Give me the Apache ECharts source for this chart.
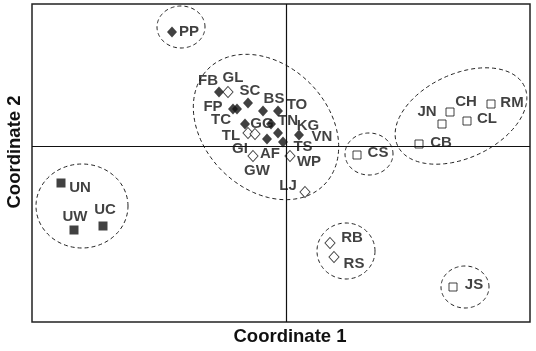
<!DOCTYPE html>
<html>
<head>
<meta charset="utf-8">
<script src="https://cdn.jsdelivr.net/npm/echarts@6/dist/echarts.min.js"></script>
<style>html,body{margin:0;padding:0;background:#fff}#chart{width:536px;height:351px}</style>
</head>
<body>
<div id="chart"></div>
<script>
// ---- Data (MDS coordinates) ----
const filledDiamondNames = ['PP','FB','SC','FP','TC','BS','TO','GG','TN','KG','VN','AF','TS'];
const filledDiamondX     = [-1.14,-0.67,-0.38,-0.53,-0.49,-0.23,-0.08,-0.41,-0.15,-0.08, 0.13,-0.19,-0.03];
const filledDiamondY     = [ 1.14, 0.54, 0.43, 0.37, 0.37, 0.35, 0.35, 0.22, 0.22, 0.13, 0.11, 0.07, 0.04];

const openDiamondNames = ['GL','TL','GI','GW','WP','LJ','RB','RS'];
const openDiamondX     = [-0.58,-0.38,-0.31,-0.33, 0.04, 0.19, 0.44, 0.48];
const openDiamondY     = [ 0.54, 0.13, 0.12,-0.10,-0.10,-0.46,-0.97,-1.11];

const openSquareNames = ['CH','JN','RM','CL','CB','CS','JS'];
const openSquareX     = [1.64, 1.56, 2.05, 1.81, 1.33, 0.71, 1.67];
const openSquareY     = [0.34, 0.22, 0.42, 0.25, 0.02,-0.09,-1.41];

const filledSquareNames = ['UN','UW','UC'];
const filledSquareX     = [-2.25,-2.12,-1.83];
const filledSquareY     = [-0.37,-0.84,-0.80];

// cluster ellipses: centre, semi-axes, rotation (degrees)
const ellipseCX    = [-1.05,-0.20, 1.75, 0.83,-2.04, 0.60, 1.79];
const ellipseCY    = [ 1.19, 0.19, 0.30,-0.08,-0.60,-1.05,-1.41];
const ellipseA     = [ 0.24, 0.82, 0.70, 0.24, 0.46, 0.29, 0.24];
const ellipseB     = [ 0.21, 0.62, 0.42, 0.21, 0.42, 0.28, 0.21];
const ellipseAngle = [ 0,   -45,   25,    0,    0,    0,    0  ];

const xAxisTitle = 'Coordinate 1';
const yAxisTitle = 'Coordinate 2';

// ---- Label placement (pixel offsets from marker centre) ----
const labelOffsets = {
  PP:[17,0], FB:[-11,-11], GL:[5,-14], SC:[2,-12], FP:[-20,-2], TC:[-16,11],
  BS:[11,-12], TO:[19,-6], GG:[17,0], TN:[17,-3], KG:[30,-7], VN:[23,2],
  AF:[3,15], TS:[20,5], TL:[-17,3], GI:[-15,15], GW:[4,15], WP:[19,6],
  LJ:[-17,-6], RB:[22,-5], RS:[20,7], CH:[16,-10], JN:[-15,-12], RM:[21,-1],
  CL:[20,-2], CB:[22,-1], CS:[21,-2], JS:[21,-2], UN:[19,5], UW:[1,-13], UC:[2,-16]
};

const FONT = '"Liberation Sans", Arial, Helvetica, sans-serif';
const INK = '#111';

function buildPoints(names, xs, ys) {
  return names.map((n, i) => ({
    name: n,
    value: [xs[i], ys[i]],
    label: { offset: labelOffsets[n] || [0, 0] }
  }));
}

const labelStyle = {
  show: true,
  formatter: '{b}',
  position: 'inside',
  align: 'center',
  verticalAlign: 'middle',
  color: INK,
  fontFamily: FONT,
  fontWeight: 'bold',
  fontSize: 15
};

const chart = echarts.init(document.getElementById('chart'), null, { renderer: 'canvas' });

const ellipseData = ellipseCX.map((c, i) => [c, ellipseCY[i], ellipseA[i], ellipseB[i], ellipseAngle[i]]);

chart.setOption({
  animation: false,
  backgroundColor: '#fff',
  grid: { left: 32, right: 6, top: 4, bottom: 29, show: true, borderColor: '#222', borderWidth: 1.5, containLabel: false },
  xAxis: {
    type: 'value', min: -2.54, max: 2.44,
    axisLine: { show: false }, axisTick: { show: false }, axisLabel: { show: false }, splitLine: { show: false }
  },
  yAxis: {
    type: 'value', min: -1.76, max: 1.42,
    axisLine: { show: false }, axisTick: { show: false }, axisLabel: { show: false }, splitLine: { show: false }
  },
  graphic: [
    { type: 'text', x: 290, y: 337, style: { text: xAxisTitle, fill: INK, font: 'bold 18.5px ' + FONT, align: 'center', verticalAlign: 'middle' } },
    { type: 'text', x: 15, y: 152, rotation: Math.PI / 2, style: { text: yAxisTitle, fill: INK, font: 'bold 18.5px ' + FONT, align: 'center', verticalAlign: 'middle' } }
  ],
  series: [
    {
      type: 'custom',
      silent: true,
      clip: false,
      z: 1,
      data: ellipseData,
      renderItem: function (params, api) {
        const cx = api.value(0), cy = api.value(1), a = api.value(2), b = api.value(3);
        const ang = api.value(4) * Math.PI / 180;
        const pts = [];
        const N = 120;
        for (let k = 0; k <= N; k++) {
          const t = k / N * 2 * Math.PI;
          const ex = a * Math.cos(t), ey = b * Math.sin(t);
          pts.push(api.coord([cx + ex * Math.cos(ang) - ey * Math.sin(ang), cy + ex * Math.sin(ang) + ey * Math.cos(ang)]));
        }
        return { type: 'polyline', shape: { points: pts }, style: { fill: null, stroke: '#222', lineWidth: 1, lineDash: [4, 3] } };
      }
    },
    {
      type: 'scatter',
      symbol: 'diamond',
      symbolSize: [10, 11],
      z: 3,
      itemStyle: { color: INK },
      label: labelStyle,
      data: buildPoints(filledDiamondNames, filledDiamondX, filledDiamondY),
      markLine: {
        silent: true, symbol: 'none', animation: false,
        label: { show: false },
        lineStyle: { color: INK, width: 1.2, type: 'solid' },
        data: [{ xAxis: 0 }, { yAxis: 0 }]
      }
    },
    {
      type: 'scatter',
      symbol: 'diamond',
      symbolSize: [10, 11],
      z: 3,
      itemStyle: { color: '#fff', borderColor: INK, borderWidth: 1 },
      label: labelStyle,
      data: buildPoints(openDiamondNames, openDiamondX, openDiamondY)
    },
    {
      type: 'scatter',
      symbol: 'rect',
      symbolSize: 8,
      z: 3,
      itemStyle: { color: '#fff', borderColor: INK, borderWidth: 1 },
      label: labelStyle,
      data: buildPoints(openSquareNames, openSquareX, openSquareY)
    },
    {
      type: 'scatter',
      symbol: 'rect',
      symbolSize: 9,
      z: 3,
      itemStyle: { color: INK },
      label: labelStyle,
      data: buildPoints(filledSquareNames, filledSquareX, filledSquareY)
    }
  ]
});
</script>
</body>
</html>
